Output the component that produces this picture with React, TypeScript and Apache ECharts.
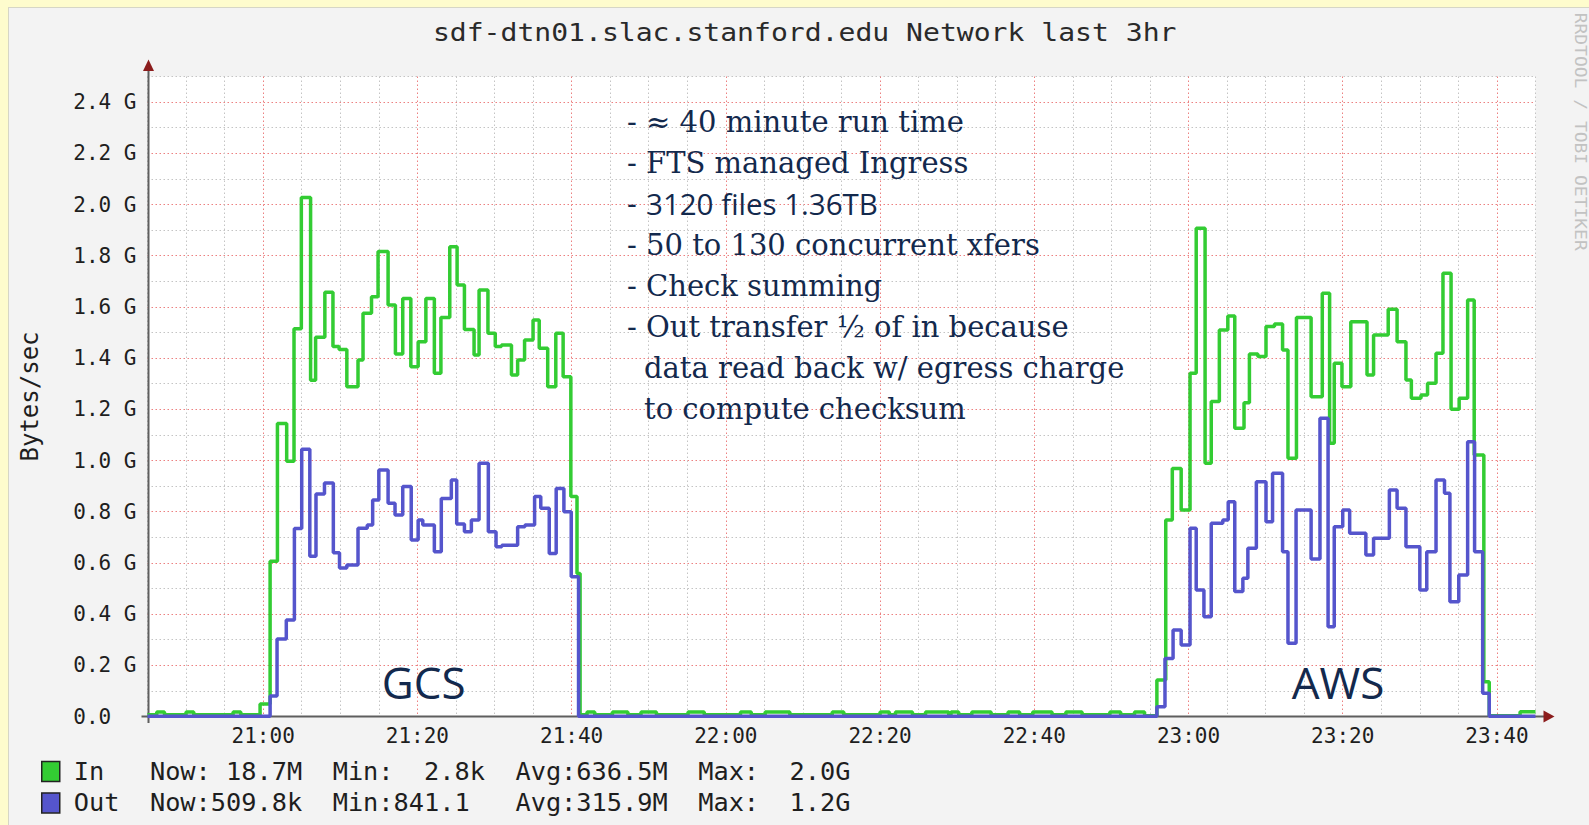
import React, { useEffect, useRef } from 'react';
import * as echarts from 'echarts';

// ---------- text ----------
const TITLE = 'sdf-dtn01.slac.stanford.edu Network last 3hr';
const Y_NAME = 'Bytes/sec';
const WATERMARK = 'RRDTOOL / TOBI OETIKER';
const LEGEND_IN = 'In   Now: 18.7M  Min:  2.8k  Avg:636.5M  Max:  2.0G';
const LEGEND_OUT = 'Out  Now:509.8k  Min:841.1   Avg:315.9M  Max:  1.2G';
const NOTE_LINES = [
  '- \u2248 40 minute run time',
  '- FTS managed Ingress',
  '- {s|3120 files 1.36TB}',
  '- 50 to 130 concurrent xfers',
  '- Check summing',
  '- Out transfer \u00bd of in because',
  'data read back w/ egress charge',
  'to compute checksum',
];
const SITE_LABELS = ['GCS', 'AWS'];

// ---------- data (time = minutes after 20:45, value = GBytes/sec) ----------
const START_MIN = 20 * 60 + 45;
const X_MAX = 180;

const inT = [
  0, 1.2, 2.2, 5.0, 6.0, 11.1, 12.1,
  14.6, 15.9, 16.85, 18.05, 19.0, 19.95, 21.15, 21.8, 23.0, 24.05, 24.85, 25.85, 27.3, 27.95,
  29.05, 29.9, 31.2, 32.15, 33.1, 34.15, 35.1, 36.1, 37.2, 38.05, 39.2, 40.15, 41.1, 42.35,
  43.0, 44.15, 45.1, 45.9, 47.2, 48.0, 48.9, 50.0, 50.8, 51.9, 52.95, 53.9, 54.9, 55.7, 56.1,
  57.0, 58.0, 60.3, 62.3, 64.0, 66.0, 70.1, 72.2, 76.9, 78.3, 80.1, 83.3, 88.8, 90.3, 95.0, 96.2,
  97.0, 99.2, 100.9, 103.9, 104.2, 105.2, 106.9, 109.4, 111.6, 113.1, 114.8, 117.3, 119.1, 121.2,
  124.8, 126.2, 128.0, 129.3,
  130.9, 132.05, 132.9, 134.05, 135.2, 136.0, 137.15, 137.95, 139.0, 140.1, 141.0, 142.2, 142.9,
  144.0, 145.05, 146.15, 147.2, 147.9, 149.0, 150.9, 152.35, 153.3, 153.9, 154.9, 156.05, 158.15,
  159.0, 160.9, 162.05, 163.2, 163.9, 165.15, 166.0, 167.1, 168.0, 169.05, 170.1, 171.2, 172.05,
  173.3, 174.0, 178.0, 180,
];
const inV = [
  0.007, 0.018, 0.007, 0.018, 0.007, 0.018, 0.007,
  0.049, 0.606, 1.145, 0.997, 1.515, 2.027, 1.313, 1.481, 1.657, 1.445, 1.434, 1.288, 1.393, 1.575,
  1.64, 1.816, 1.607, 1.416, 1.633, 1.366, 1.464, 1.633, 1.341, 1.559, 1.835, 1.686, 1.512, 1.412,
  1.666, 1.497, 1.445, 1.451, 1.334, 1.393, 1.471, 1.549, 1.438, 1.288, 1.497, 1.327, 0.859, 0.559, 0.007,
  0.018, 0.007, 0.018, 0.007, 0.018, 0.007, 0.018, 0.007, 0.018, 0.007, 0.018, 0.007, 0.018, 0.007, 0.018, 0.007,
  0.018, 0.007, 0.018, 0.007, 0.018, 0.007, 0.018, 0.007, 0.018, 0.007, 0.018, 0.007, 0.018, 0.007,
  0.018, 0.007, 0.018, 0.003,
  0.143, 0.768, 0.969, 0.807, 1.341, 1.907, 0.989, 1.23, 1.51, 1.564, 1.126, 1.226, 1.416,
  1.406, 1.523, 1.533, 1.432, 1.009, 1.559, 1.249, 1.653, 1.067, 1.38, 1.288, 1.542, 1.334,
  1.49, 1.591, 1.464, 1.314, 1.243, 1.256, 1.302, 1.419, 1.731, 1.2, 1.243, 1.627, 1.021,
  0.136, 0.003, 0.0187, 0.0187,
];

const outT = [
  0, 15.9, 16.8, 18.0, 19.05, 20.0, 21.05, 21.85, 22.95, 24.1, 24.9, 25.85, 27.3, 28.5, 29.2, 30.0,
  31.2, 32.1, 33.1, 34.2, 35.1, 35.7, 37.2, 38.1, 39.4, 40.1, 41.1, 42.0, 43.0, 44.2, 45.2, 45.95,
  48.0, 48.95, 50.2, 51.0, 52.1, 53.0, 54.0, 54.95, 55.9,
  130.9, 131.95, 133.0, 134.05, 135.2, 136.0, 137.0, 137.95, 139.45, 140.15, 141.0, 142.05, 142.7,
  143.8, 145.05, 145.9, 147.2, 147.9, 148.95, 150.9, 152.05, 153.1, 153.9, 155.0, 155.9, 158.0,
  159.0, 161.05, 162.05, 163.2, 165.0, 165.9, 167.1, 168.2, 168.9, 170.05, 171.2, 172.1, 173.15,
  174.0, 180,
];
const outV = [
  0.0005, 0.08, 0.303, 0.377, 0.734, 1.044, 0.626, 0.869, 0.912, 0.64, 0.58, 0.592, 0.735, 0.748, 0.846, 0.963,
  0.833, 0.787, 0.898, 0.689, 0.768, 0.748, 0.644, 0.852, 0.924, 0.752, 0.722, 0.768, 0.989, 0.722, 0.663, 0.669,
  0.741, 0.748, 0.859, 0.813, 0.637, 0.891, 0.8, 0.546, 0.0005,
  0.038, 0.227, 0.338, 0.279, 0.735, 0.494, 0.39, 0.755, 0.768, 0.839, 0.488, 0.54, 0.657,
  0.917, 0.761, 0.95, 0.644, 0.286, 0.807, 0.615, 1.165, 0.351, 0.741, 0.807, 0.716, 0.631,
  0.696, 0.885, 0.813, 0.663, 0.494, 0.644, 0.924, 0.872, 0.448, 0.553, 1.073, 0.644, 0.091,
  0.0005, 0.0005,
];

// ---------- layout / style ----------
const W = 1589;
const H = 825;
const GRID = { left: 147.5, top: 76.5, width: 1388, height: 640 };
const MONO = '"DejaVu Sans Mono", monospace';
const SERIF = '"DejaVu Serif", serif';
const SANS = '"Open Sans", sans-serif';
const IN_COLOR = '#33cc33';
const OUT_COLOR = '#5555cc';
const GRID_GRAY = '#c4c4c4';
const GRID_RED = '#ec8080';
const NOTE_COLOR = '#13294d';
const ARROW = '#8b1c1c';
const AXIS = '#5e5e5e';

const pad = (n: number) => (n < 10 ? '0' + n : '' + n);

export default function App() {
  const ref = useRef<HTMLDivElement>(null);

  useEffect(() => {
    if (!ref.current) return;
    const chart = echarts.init(ref.current, null, { renderer: 'svg' });

    const xL = GRID.left + 1;
    const yB = GRID.top + GRID.height;
    const xR = GRID.left + GRID.width;

    const noteX0 = 627;
    const noteX1 = 644;
    const noteY0 = 121.5;
    const noteStep = 41;

    const graphics: any[] = [
      // axes (RRDtool style, extending past the canvas)
      { type: 'line', z: 1, silent: true, shape: { x1: xL, y1: yB + 6.5, x2: xL, y2: GRID.top - 8 }, style: { stroke: AXIS, lineWidth: 2 } },
      { type: 'line', z: 1, silent: true, shape: { x1: GRID.left - 6, y1: yB, x2: xR + 9, y2: yB }, style: { stroke: AXIS, lineWidth: 2 } },
      { type: 'polygon', z: 1, silent: true, shape: { points: [[xL - 5.5, GRID.top - 5.5], [xL + 5.5, GRID.top - 5.5], [xL, GRID.top - 17]] }, style: { fill: ARROW } },
      { type: 'polygon', z: 1, silent: true, shape: { points: [[xR + 8, yB - 6], [xR + 8, yB + 6], [xR + 19, yB]] }, style: { fill: ARROW } },
      // title
      {
        type: 'text', x: 804.7, y: 32.5, scaleX: 1.17, silent: true,
        style: { text: TITLE, fontFamily: MONO, fontSize: 24, fill: '#2a2a2a', textAlign: 'center', textVerticalAlign: 'middle', align: 'center', verticalAlign: 'middle' },
      },
      // watermark
      {
        type: 'text', x: 1580, y: 131.7, rotation: -Math.PI / 2, scaleX: 1.2, silent: true,
        style: { text: WATERMARK, fontFamily: MONO, fontSize: 15, fill: '#c2c2c2', textAlign: 'center', textVerticalAlign: 'middle', align: 'center', verticalAlign: 'middle' },
      },
    ];

    NOTE_LINES.forEach((line, i) => {
      const cont = !line.startsWith('-');
      graphics.push({
        type: 'text', z: 5, silent: true,
        x: cont ? noteX1 : noteX0,
        y: noteY0 + i * noteStep,
        style: {
          text: line,
          fontFamily: SERIF,
          fontSize: 29,
          fill: NOTE_COLOR,
          textAlign: 'left', align: 'left',
          textVerticalAlign: 'middle', verticalAlign: 'middle',
          rich: { s: { fontFamily: SANS, fontSize: 29.5, fill: NOTE_COLOR } },
        },
      });
    });

    const sitePos = [423.6, 1338];
    SITE_LABELS.forEach((lab, i) => {
      graphics.push({
        type: 'text', z: 5, silent: true, x: sitePos[i], y: 681.6,
        style: { text: lab, fontFamily: SANS, fontSize: 44, fill: NOTE_COLOR, textAlign: 'center', align: 'center', textVerticalAlign: 'middle', verticalAlign: 'middle' },
      });
    });

    const option: any = {
      animation: false,
      backgroundColor: 'transparent',
      grid: { ...GRID, show: true, backgroundColor: '#ffffff', borderWidth: 0, containLabel: false },
      xAxis: {
        type: 'value',
        min: 0,
        max: X_MAX,
        interval: 5,
        axisLine: { show: false },
        axisTick: { show: false },
        splitLine: { show: true, lineStyle: { color: [GRID_GRAY, GRID_GRAY, GRID_GRAY, GRID_RED], width: 1, type: [1.5, 2.5] } },
        axisLabel: {
          margin: 9,
          fontFamily: MONO,
          fontSize: 21,
          color: '#1e1e1e',
          formatter: (v: number) => {
            const r = Math.round(v);
            if ((r - 15) % 20 !== 0) return '';
            const tot = START_MIN + r;
            return pad(Math.floor(tot / 60) % 24) + ':' + pad(tot % 60);
          },
        },
      },
      yAxis: {
        type: 'value',
        min: 0,
        max: 2.5,
        interval: 0.1,
        name: Y_NAME,
        nameLocation: 'middle',
        nameGap: 106,
        nameRotate: 90,
        nameTextStyle: { fontFamily: MONO, fontSize: 24, color: '#1e1e1e' },
        axisLine: { show: false },
        axisTick: { show: false },
        splitLine: { show: true, lineStyle: { color: [GRID_RED, GRID_GRAY], width: 1, type: [1.5, 2.5] } },
        axisLabel: {
          margin: 11,
          fontFamily: MONO,
          fontSize: 21,
          color: '#1e1e1e',
          formatter: (v: number) => {
            const k = Math.round(v * 10);
            if (k % 2 !== 0) return '';
            if (k === 0) return '0.0\u00a0\u00a0';
            return (k / 10).toFixed(1) + ' G';
          },
        },
      },
      legend: {
        data: ['In', 'Out'],
        orient: 'vertical',
        left: 41,
        top: 759,
        padding: 0,
        itemWidth: 18,
        itemHeight: 20,
        itemGap: 6.4,
        icon: 'rect',
        selectedMode: false,
        itemStyle: { borderColor: '#222', borderWidth: 1.5 },
        formatter: (name: string) => (name === 'In' ? LEGEND_IN : LEGEND_OUT),
        textStyle: { fontFamily: MONO, fontSize: 25.3, color: '#1e1e1e', padding: [0, 0, 0, 9] },
      },
      series: [
        {
          name: 'In',
          type: 'line',
          step: 'end',
          symbol: 'none',
          z: 2,
          color: IN_COLOR,
          lineStyle: { color: IN_COLOR, width: 3.5 },
          data: inT.map((t, i) => [t, inV[i]]),
        },
        {
          name: 'Out',
          type: 'line',
          step: 'end',
          symbol: 'none',
          z: 3,
          color: OUT_COLOR,
          lineStyle: { color: OUT_COLOR, width: 3.5 },
          data: outT.map((t, i) => [t, outV[i]]),
        },
      ],
      graphic: { elements: graphics },
    };

    chart.setOption(option);
    return () => chart.dispose();
  }, []);

  return (
    <div style={{ position: 'absolute', left: 0, top: 0, width: W, height: H, background: '#fefccd', overflow: 'hidden' }}>
      <div
        style={{
          position: 'absolute', left: 8, top: 7, width: W - 8, height: H - 7,
          background: '#f3f3f3', borderLeft: '1px solid #d6d6c6', borderTop: '1px solid #d6d6c6', boxSizing: 'border-box',
        }}
      />
      <div ref={ref} style={{ position: 'absolute', left: 0, top: 0, width: W, height: H }} />
    </div>
  );
}
